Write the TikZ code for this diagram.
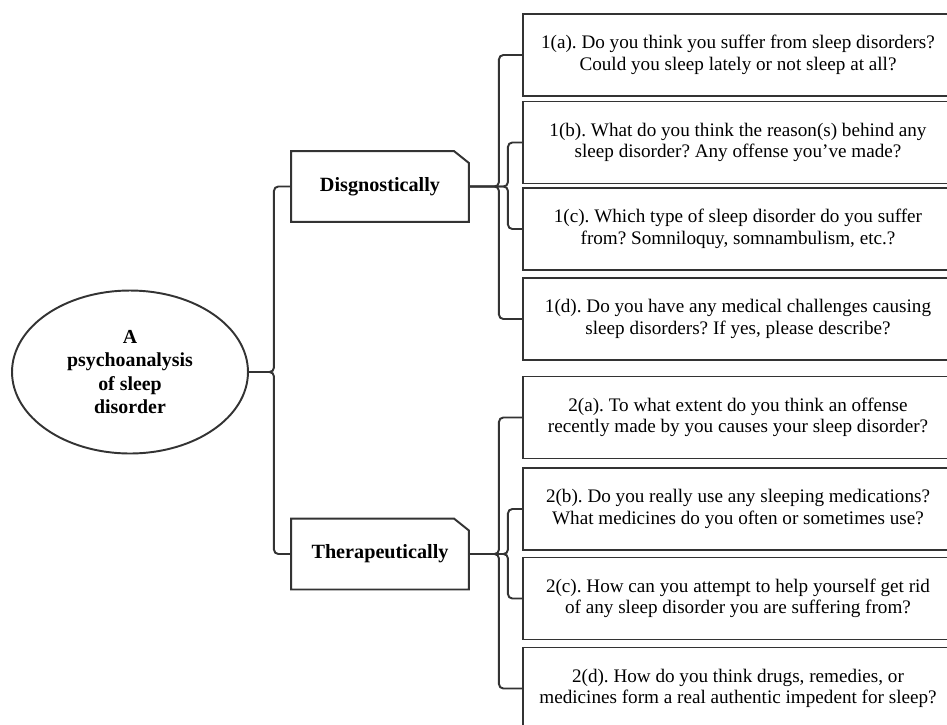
\documentclass[tikz,border=0pt]{standalone}
\usepackage{fontspec}
\setmainfont{Liberation Serif}
\usetikzlibrary{shapes.geometric}
\frenchspacing

\newcommand{\dogear}[1]{\draw[edge] (#1.south west) -- (#1.north west) -- ([xshift=-0.3cm]#1.north east) -- ([yshift=-0.24cm]#1.north east) -- (#1.south east) -- cycle;}

\begin{document}
\begin{tikzpicture}[x=0.02cm, y=-0.02cm, line width=1.1pt,
  edge/.style={draw=black!80},
  link/.style={draw=black!80, rounded corners=2.5pt},
  qbox/.style={edge, rectangle, minimum width=8.6cm, minimum height=1.64cm, inner sep=0pt, align=center, font=\fontsize{10.9}{12.3}\selectfont},
  topic/.style={rectangle, minimum width=3.52cm, minimum height=1.38cm, inner sep=0pt, font=\bfseries\fontsize{11.5}{12}\selectfont}]
  \useasboundingbox (0,0) rectangle (947,724);
  \clip (0,0) rectangle (947,724);
  % 중심 타원
  \node[edge, ellipse, minimum width=4.72cm, minimum height=3.26cm, inner sep=0pt, align=center, font=\bfseries\fontsize{11.3}{13.3}\selectfont] (root) at (130,372) {A\\psychoanalysis\\of sleep\\disorder};
  % 두 갈래
  \node[topic] (diag) at (380,186.5) {Disgnostically};
  \node[topic] (ther) at (380,554) {Therapeutically};
  \dogear{diag}
  \dogear{ther}
  % 질문 상자
  \node[qbox] (q1a) at (738,55) {1(a). Do you think you suffer from sleep disorders?\\Could you sleep lately or not sleep at all?};
  \node[qbox] (q1b) at (738,142.5) {1(b). What do you think the reason(s) behind any\\sleep disorder? Any offense you’ve made?};
  \node[qbox] (q1c) at (738,229) {1(c). Which type of sleep disorder do you suffer\\from? Somniloquy, somnambulism, etc.?};
  \node[qbox] (q1d) at (738,319) {1(d). Do you have any medical challenges causing\\sleep disorders? If yes, please describe?};
  \node[qbox] (q2a) at (738,417.5) {2(a). To what extent do you think an offense\\recently made by you causes your sleep disorder?};
  \node[qbox] (q2b) at (738,509) {2(b). Do you really use any sleeping medications?\\What medicines do you often or sometimes use?};
  \node[qbox] (q2c) at (738,598.5) {2(c). How can you attempt to help yourself get rid\\of any sleep disorder you are suffering from?};
  \node[qbox] (q2d) at (738,688.5) {2(d). How do you think drugs, remedies, or\\medicines form a real authentic impedent for sleep?};
  % 괄호 연결선
  \draw[link] (root.east) -- ++(25,0) |- (diag.west);
  \draw[link] (root.east) -- ++(25,0) |- (ther.west);
  \draw[link] (diag.east) -- ++(30,0) |- (q1a.west);
  \draw[link] (diag.east) -- ++(39,0) |- (q1b.west);
  \draw[link] (diag.east) -- ++(39,0) |- (q1c.west);
  \draw[link] (diag.east) -- ++(30,0) |- (q1d.west);
  \draw[link] (ther.east) -- ++(30,0) |- (q2a.west);
  \draw[link] (ther.east) -- ++(39,0) |- (q2b.west);
  \draw[link] (ther.east) -- ++(39,0) |- (q2c.west);
  \draw[link] (ther.east) -- ++(30,0) |- (q2d.west);
\end{tikzpicture}
\end{document}
